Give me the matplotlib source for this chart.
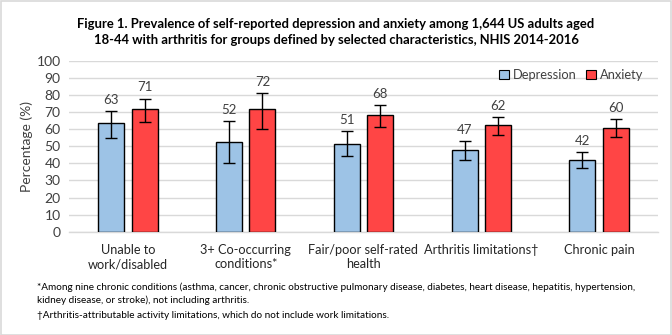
import matplotlib
matplotlib.use("Agg")
import matplotlib.pyplot as plt
import numpy as np
from matplotlib.patches import Rectangle

categories = ["Unable to\nwork/disabled", "3+ Co-occurring\nconditions*",
              "Fair/poor self-rated\nhealth", "Arthritis limitations\u2020", "Chronic pain"]
dep_values = [63.4, 52.3, 51.2, 47.7, 41.8]
dep_labels = ["63", "52", "51", "47", "42"]
dep_low = [55.1, 40.1, 44.2, 41.8, 37.1]
dep_high = [70.5, 64.7, 58.8, 53.0, 46.5]
anx_values = [71.6, 71.7, 68.2, 62.3, 60.6]
anx_labels = ["71", "72", "68", "62", "60"]
anx_low = [64.3, 60.0, 61.2, 56.5, 55.3]
anx_high = [77.9, 81.1, 74.0, 67.0, 65.9]
yticks = list(range(0, 101, 10))

title = ("Figure 1. Prevalence of self-reported depression and anxiety among 1,644 US adults aged\n"
         "18-44 with arthritis for groups defined by selected characteristics, NHIS 2014-2016")
foot1 = ("*Among nine chronic conditions (asthma, cancer, chronic obstructive pulmonary disease, diabetes, heart disease, hepatitis, hypertension,\n"
         "kidney disease, or stroke), not including arthritis.")
foot2 = "\u2020Arthritis-attributable activity limitations, which do not include work limitations."

FONT = ["Lato", "DejaVu Sans"]
plt.rcParams['font.family'] = FONT

fig = plt.figure(figsize=(6.72, 3.35), dpi=100)
fig.patches.append(Rectangle((0.001, 0.001), 0.998, 0.997, transform=fig.transFigure,
                             fill=False, edgecolor="#d9d9d9", linewidth=1.2))
ax = fig.add_axes([69/672, 1-231.7/335, (658-69)/672, (231.7-61)/335])

x = np.arange(len(categories))
w = 0.22
off = 0.142
dep_col = "#9DC3E6"
anx_col = "#FF4545"

def draw(xs, vals, lo, hi, col, lab, labels):
    ax.bar(xs, vals, width=w, color=col, edgecolor="black", linewidth=1.0, label=lab, zorder=3)
    yerr = [np.array(vals) - np.array(lo), np.array(hi) - np.array(vals)]
    ax.errorbar(xs, vals, yerr=yerr, fmt="none", ecolor="black", elinewidth=1.0,
                capsize=4, capthick=1.0, zorder=4)
    for xi, h, t in zip(xs, hi, labels):
        ax.annotate(t, (xi, h), xytext=(0, 4), textcoords="offset points",
                    ha="center", va="bottom", fontsize=9.5, color="#404040")

draw(x - off, dep_values, dep_low, dep_high, dep_col, "Depression", dep_labels)
draw(x + off, anx_values, anx_low, anx_high, anx_col, "Anxiety", anx_labels)

ax.set_xlim(-0.5, len(categories) - 0.5)
ax.set_ylim(0, 100)
ax.set_yticks(yticks)
ax.tick_params(axis="y", length=0, labelsize=10, labelcolor="#404040", pad=6)
ax.set_xticks(x)
ax.set_xticklabels(categories, fontsize=9.2, color="#262626")
ax.tick_params(axis="x", length=0, pad=9)
ax.grid(axis="y", color="#d9d9d9", linewidth=1.0, zorder=0)
ax.set_axisbelow(True)
for s in ["left", "right", "top"]:
    ax.spines[s].set_visible(False)
ax.spines["bottom"].set_color("#d9d9d9")
ax.spines["bottom"].set_linewidth(1.0)
ax.set_ylabel("Percentage (%)", fontsize=10, color="#404040")
ax.yaxis.set_label_coords((33 - 69) / 589, 0.5)

leg = ax.legend(loc="upper right", bbox_to_anchor=(0.995, 1.02), ncol=2, frameon=False,
                fontsize=9.3, handlelength=0.75, handleheight=0.75, handletextpad=0.3,
                columnspacing=0.8, labelcolor="#404040")
for p in leg.get_patches():
    p.set_linewidth(0.8)

fig.text(0.5, 1 - 32/335, title, ha="center", va="center", fontsize=9.4,
         fontweight="bold", color="black", linespacing=1.45)
fig.text(37/672, 1 - 294/335, foot1, ha="left", va="center", fontsize=7.2,
         color="black", linespacing=1.45)
fig.text(37/672, 1 - 316/335, foot2, ha="left", va="center", fontsize=7.2, color="black")

fig.savefig("out.png", dpi=100)
